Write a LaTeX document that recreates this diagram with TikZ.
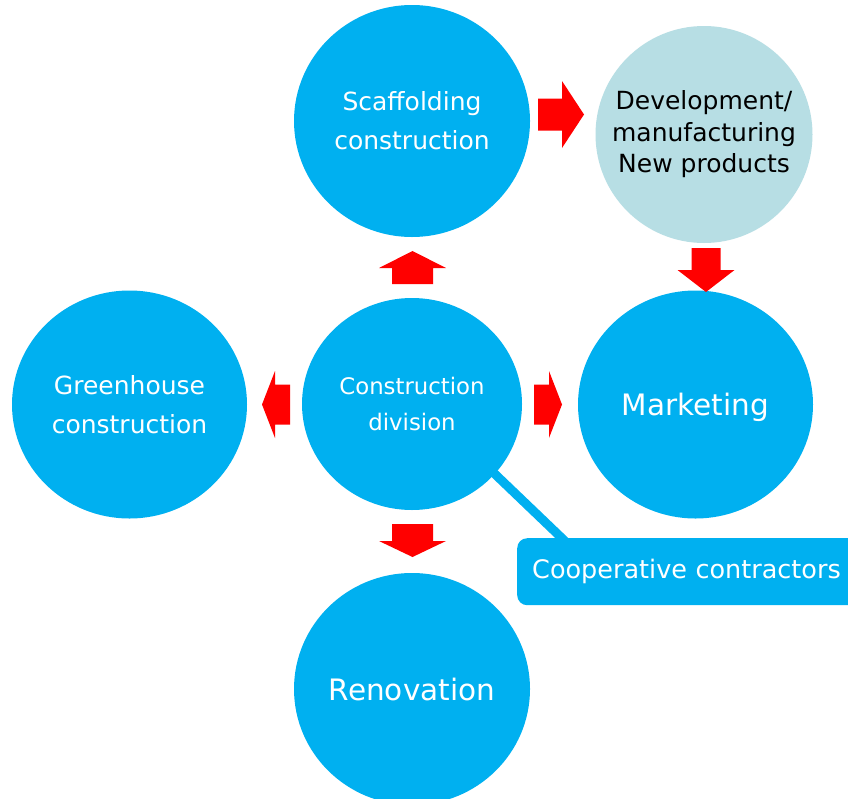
\documentclass[tikz,border=0pt]{standalone}
\usepackage{fontspec}
\setmainfont{DejaVu Sans}
\usetikzlibrary{shapes.geometric,calc,backgrounds}

\definecolor{bubbleblue}{RGB}{0,176,240}
\definecolor{paleteal}{RGB}{183,222,228}
\definecolor{arrowred}{RGB}{255,0,0}

% Block arrow: start point, direction, shaft length, head length, shaft width, head width
\newcommand\blockarrow[6]{%
  \fill[arrowred,shift={#1},rotate=#2]
    (0,{-#5/2}) -- (#3,{-#5/2}) -- (#3,{-#6/2}) -- ({#3+#4},0)
    -- (#3,{#6/2}) -- (#3,{#5/2}) -- (0,{#5/2}) -- cycle;}

\tikzset{
  bubble/.style={ellipse, fill=bubbleblue, inner sep=0pt, text=white, align=center},
  midtext/.style={font=\fontsize{25}{39}\selectfont},
  bigtext/.style={font=\fontsize{29.5}{34}\selectfont, text depth=0pt},
  devbubble/.style={circle, fill=paleteal, inner sep=0pt, text=black, align=center,
    font=\fontsize{25}{31.5}\selectfont},
  callout/.style={fill=bubbleblue, rounded corners=10pt, text=white, align=left,
    text width=330pt, inner xsep=15pt, inner ysep=0pt, minimum height=67pt,
    font=\fontsize{25.5}{30}\selectfont},
  tether/.style={draw=bubbleblue, line width=9pt}
}

\begin{document}
\begin{tikzpicture}[x=1pt,y=-1pt]
  \path[use as bounding box] (0,0) rectangle (848,798);

  % circles
  \node[bubble, midtext, minimum width=236pt, minimum height=232pt] (scaf) at (412,121)
    {Scaffolding\\construction};
  \node[devbubble, minimum size=217pt] (dev) at (704,134.5)
    {Development/\\manufacturing\\New products};
  \node[bubble, midtext, minimum width=235pt, minimum height=228pt] (green) at (129.5,404.5)
    {Greenhouse\\construction};
  \node[bubble, font=\fontsize{22.8}{36}\selectfont, minimum width=220pt, minimum height=212pt]
    (cd) at (412,404) {Construction\\division};
  \node[bubble, bigtext, minimum width=235pt, minimum height=228pt] (mkt) at (695.5,404.5)
    {Marketing};
  \node[bubble, bigtext, minimum width=236pt, minimum height=232pt] (reno) at (412,689)
    {Renovation};

  % callout box and its tether to the construction division
  \node[callout, anchor=north west] (coop) at (517,538) {Cooperative contractors};
  \begin{scope}[on background layer]
    \fill[white] (0,0) rectangle (848,798);
    \draw[tether] ($(cd.center)!0.95!(cd.-40.5)$) -- ($(coop.north west)+(51,6)$);
  \end{scope}

  % red block arrows between the circles
  \blockarrow{(412.5,284)}{90}{16}{17}{41}{67}   % to scaffolding
  \blockarrow{(412.5,524)}{-90}{17}{16}{41}{67}  % to renovation
  \blockarrow{(290,404.5)}{180}{15}{13}{40}{67}  % to greenhouse
  \blockarrow{(534,404.5)}{0}{15}{13}{40}{67}    % to marketing
  \blockarrow{(538,114.5)}{0}{24}{22}{32}{67}    % scaffolding to development
  \blockarrow{(706,248)}{-90}{22}{22}{29}{57}    % development to marketing
\end{tikzpicture}
\end{document}
